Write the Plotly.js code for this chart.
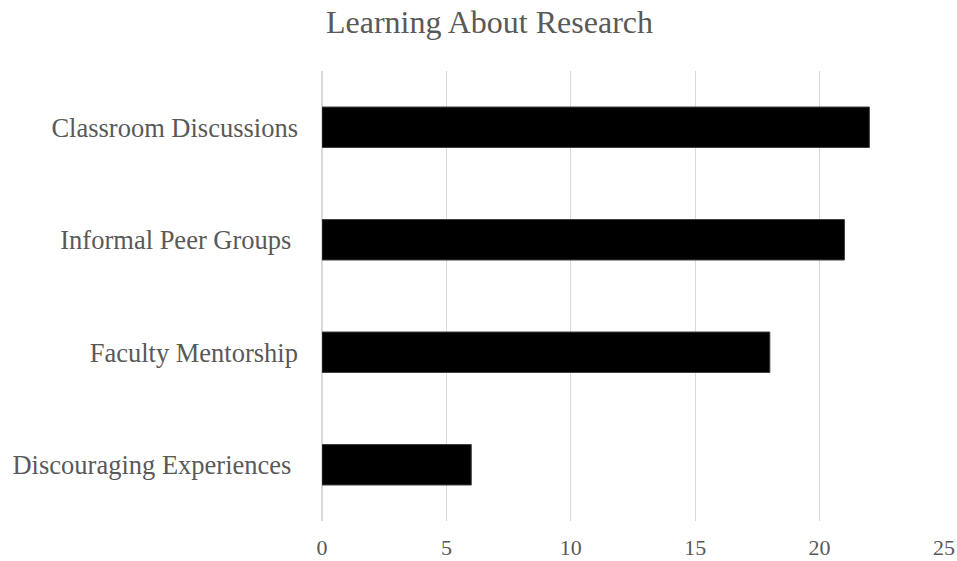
<!DOCTYPE html>
<html><head><meta charset="utf-8">
<script src="https://cdn.plot.ly/plotly-3.0.1.min.js"></script>
<style>html,body{margin:0;padding:0;background:#fff}</style>
</head><body>
<div id="chart" style="width:957px;height:561px"></div>
<script>
const categories = ["Classroom Discussions", "Informal Peer Groups\u00a0", "Faculty Mentorship", "Discouraging Experiences\u00a0"];
const values = [22, 21, 18, 6];
const xTicks = [0, 5, 10, 15, 20, 25];

const font = "Liberation Serif, Times New Roman, serif";
Plotly.newPlot("chart", [{
  type: "bar",
  orientation: "h",
  y: categories,
  x: values,
  marker: {color: "#000000", line: {color: "#404040", width: 1}},
  hoverinfo: "x+y"
}], {
  width: 957, height: 561,
  margin: {l: 322, r: 13, t: 71, b: 40},
  paper_bgcolor: "#fff", plot_bgcolor: "#fff",
  title: {text: "Learning About Research", x: 0.5115, xref: "container", xanchor: "center", y: 0.962, yref: "container", yanchor: "middle",
          font: {family: font, size: 32, color: "#595959"}},
  bargap: 0.64,
  showlegend: false,
  xaxis: {range: [0, 25], tickvals: xTicks, ticktext: xTicks.map(String), showgrid: true, gridcolor: "#d9d9d9", gridwidth: 1.3,
          zeroline: true, zerolinecolor: "#d9d9d9", zerolinewidth: 1.3, showline: false, ticks: "",
          ticklabelstandoff: 11, tickfont: {family: font, size: 22, color: "#595959"}, fixedrange: true},
  yaxis: {autorange: "reversed", type: "category", showgrid: false, zeroline: false, showline: false, ticks: "",
          ticklabelstandoff: 23, tickfont: {family: font, size: 26.5, color: "#595959"}, fixedrange: true}
}, {displayModeBar: false, staticPlot: true});
</script>
</body></html>
